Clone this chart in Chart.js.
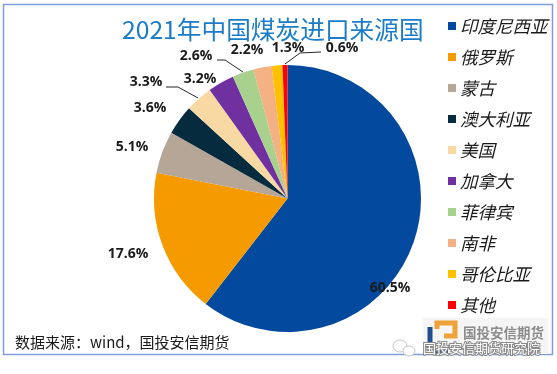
<!DOCTYPE html>
<html>
<head>
<meta charset="utf-8">
<script src="https://cdn.jsdelivr.net/npm/chart.js@4"></script>
<style>
  html, body { margin: 0; padding: 0; background: #fff; }
  #wrap { position: relative; width: 557px; height: 374px; }
</style>
</head>
<body>
<div id="wrap"><canvas id="pie"></canvas></div>
<script>
const categories = ["印度尼西亚", "俄罗斯", "蒙古", "澳大利亚", "美国", "加拿大", "菲律宾", "南非", "哥伦比亚", "其他"];
const shares = [60.5, 17.6, 5.1, 3.6, 3.3, 3.2, 2.6, 2.2, 1.3, 0.6];
const sliceColors = ["#03499e", "#f59b00", "#b5a698", "#062a3e", "#f8d9a4", "#7030a0", "#a9d18e", "#f4b183", "#ffc000", "#ff0000"];

const titleText = "2021年中国煤炭进口来源国";
const sourceText = "数据来源：wind，国投安信期货";
const logoText = "国投安信期货";
const captionText = "国投安信期货研究院";
const cjk = '"Noto Sans CJK SC", "Noto Sans", sans-serif';

// where the percent labels sit, same order as the slices
const labelPos = [[390, 288], [128, 254], [132, 147], [150, 108], [146, 82], [200, 79], [196, 56], [247, 50], [288, 48], [342, 48]];
// leader lines for the three labels that are far from their slice
const leaders = [
  [[166, 87], [178, 87], [198, 98]],
  [[217, 60], [225, 60], [243, 72]],
  [[321, 52], [300, 53], [285, 64]],
];

const decor = {
  id: "decor",
  beforeDraw(chart) {
    const c = chart.ctx;
    c.save();
    c.strokeStyle = "#7f9fdc";
    c.lineWidth = 1.5;
    c.strokeRect(3.5, 4.5, 549, 350);
    c.restore();
  },
  afterDraw(chart) {
    const c = chart.ctx;
    c.save();
    c.textAlign = "left";
    c.textBaseline = "middle";

    c.fillStyle = "#1b7cc8";
    c.font = "24.7px " + cjk;
    c.fillText(titleText, 122, 30);

    c.fillStyle = "#1a1a1a";
    c.font = "15px " + cjk;
    c.fillText(sourceText, 15, 342);

    //legend, one row per slice
    categories.forEach((name, i) => {
      const y = 26 + i * 31;
      c.fillStyle = sliceColors[i];
      c.fillRect(448, y - 4, 8, 8);
      c.fillStyle = "#1a1a1a";
      c.font = "italic 17.5px " + cjk;
      c.fillText(name, 460, y);
    });

    //leader lines
    c.strokeStyle = "#262626";
    c.lineWidth = 1;
    leaders.forEach((pts) => {
      c.beginPath();
      pts.forEach((p, i) => (i ? c.lineTo(p[0], p[1]) : c.moveTo(p[0], p[1])));
      c.stroke();
    });

    //percent labels
    c.fillStyle = "#1a1a1a";
    c.font = 'bold 14px "Open Sans", sans-serif';
    c.textAlign = "center";
    shares.forEach((v, i) => {
      c.fillText(v.toFixed(1) + "%", labelPos[i][0], labelPos[i][1]);
    });
    c.textAlign = "left";

    //logo in the corner
    c.fillStyle = "#f5f5f5";
    c.fillRect(423, 318, 125, 36);
    c.lineWidth = 5;
    c.strokeStyle = "#eda23a";
    c.beginPath();
    c.moveTo(437, 329); c.lineTo(437, 323); c.lineTo(455, 323); c.lineTo(455, 336); c.lineTo(444, 336);
    c.stroke();
    c.strokeStyle = "#1d4f91";
    c.beginPath();
    c.moveTo(430, 327); c.lineTo(430, 351); c.lineTo(448, 351);
    c.stroke();
    c.fillStyle = "#8c8c8c";
    c.font = "bold 13.5px " + cjk;
    c.fillText(logoText, 463, 333);

    //wechat mark + caption
    c.strokeStyle = "#c4c4c4";
    c.fillStyle = "#ffffff";
    c.lineWidth = 1;
    c.beginPath();
    c.ellipse(400, 346, 7, 6, 0, 0, Math.PI * 2);
    c.fill(); c.stroke();
    c.beginPath();
    c.ellipse(409, 351, 6, 5, 0, 0, Math.PI * 2);
    c.fill(); c.stroke();

    c.font = "13px " + cjk;
    c.lineWidth = 2;
    c.strokeStyle = "#8a8a8a";
    c.strokeText(captionText, 423, 348);
    c.fillStyle = "#ffffff";
    c.fillText(captionText, 423, 348);
    c.restore();
  },
};

new Chart(document.getElementById("pie"), {
  type: "pie",
  data: {
    labels: categories,
    datasets: [{
      data: shares,
      backgroundColor: sliceColors,
      borderWidth: 0,
    }],
  },
  options: {
    responsive: true,
    maintainAspectRatio: false,
    animation: false,
    layout: { padding: { left: 154, right: 136, top: 65, bottom: 42 } },
    plugins: {
      title: { display: false },
      tooltip: { enabled: false },
      legend: { display: false },
    },
  },
  plugins: [decor],
});
</script>
</body>
</html>
